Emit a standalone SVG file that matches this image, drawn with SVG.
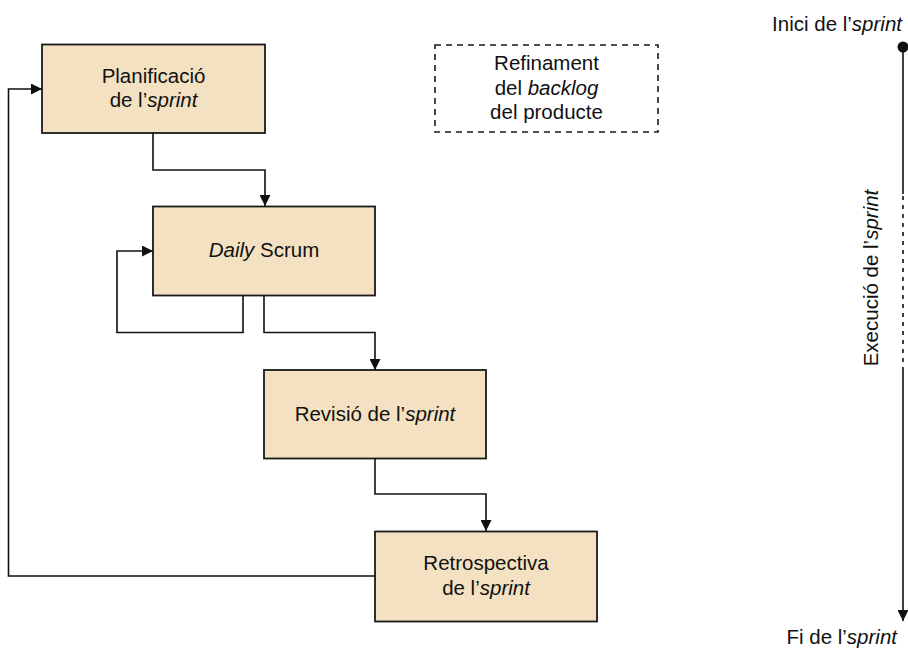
<svg xmlns="http://www.w3.org/2000/svg" width="908" height="648" viewBox="0 0 908 648">
  <style>
    .box { fill: #F4E1C1; stroke: #1a1a1a; stroke-width: 1.8; }
    .dash { fill: none; stroke: #1a1a1a; stroke-width: 1.6; stroke-dasharray: 6 5; }
    .lbl { font-family: "Liberation Sans", Arial, sans-serif; font-size: 20.5px; fill: #111; text-anchor: middle; }
    .it { font-style: italic; }
    .conn { fill: none; stroke: #111; stroke-width: 1.6; }
  </style>
  <defs>
    <marker id="arrow" viewBox="0 0 10 10" refX="10" refY="5" markerWidth="11" markerHeight="11" markerUnits="userSpaceOnUse" orient="auto">
      <path d="M0,0 L10,5 L0,10 Z" fill="#111"/>
    </marker>
  </defs>

  <!-- process nodes -->
  <g id="planificacio">
    <rect class="box" x="42" y="44.5" width="223" height="88.5"/>
    <text class="lbl" x="153.5" y="83">Planificació</text>
    <text class="lbl" x="153.5" y="107">de l’<tspan class="it">sprint</tspan></text>
  </g>
  <g id="daily-scrum">
    <rect class="box" x="153" y="206.5" width="222" height="89"/>
    <text class="lbl" x="264" y="257"><tspan class="it">Daily</tspan> Scrum</text>
  </g>
  <g id="revisio">
    <rect class="box" x="264" y="370" width="222" height="88.5"/>
    <text class="lbl" x="375" y="421">Revisió de l’<tspan class="it">sprint</tspan></text>
  </g>
  <g id="retrospectiva">
    <rect class="box" x="375" y="531.5" width="222" height="90"/>
    <text class="lbl" x="486" y="569.5">Retrospectiva</text>
    <text class="lbl" x="486" y="595">de l’<tspan class="it">sprint</tspan></text>
  </g>
  <g id="refinament">
    <rect class="dash" x="435" y="45" width="223" height="87"/>
    <text class="lbl" x="546.5" y="70">Refinament</text>
    <text class="lbl" x="546.5" y="94.5">del <tspan class="it">backlog</tspan></text>
    <text class="lbl" x="546.5" y="118.5">del producte</text>
  </g>

  <!-- flow between ceremonies -->
  <g id="connectors">
    <path class="conn" d="M153,133 V170 H265 V206" marker-end="url(#arrow)"/>
    <path class="conn" d="M243,296 V332.5 H117 V251 H153" marker-end="url(#arrow)"/>
    <path class="conn" d="M264,296 V332.5 H375 V370" marker-end="url(#arrow)"/>
    <path class="conn" d="M375,458.5 V494 H486 V531" marker-end="url(#arrow)"/>
    <path class="conn" d="M375,576 H8.5 V89 H42" marker-end="url(#arrow)"/>
  </g>

  <!-- sprint timeline -->
  <g id="timeline">
    <circle cx="903" cy="47" r="5.5" fill="#111"/>
    <path class="conn" d="M903,47 V194"/>
    <path class="conn" d="M903,196 V366" stroke-dasharray="4 5"/>
    <path class="conn" d="M903,367 V621" marker-end="url(#arrow)"/>
    <text class="lbl" x="902" y="30.5" style="text-anchor:end">Inici de l’<tspan class="it">sprint</tspan></text>
    <text class="lbl" x="897" y="643.5" style="text-anchor:end">Fi de l’<tspan class="it">sprint</tspan></text>
    <text class="lbl" transform="translate(878,278) rotate(-90)">Execució de l’<tspan class="it">sprint</tspan></text>
  </g>
</svg>
